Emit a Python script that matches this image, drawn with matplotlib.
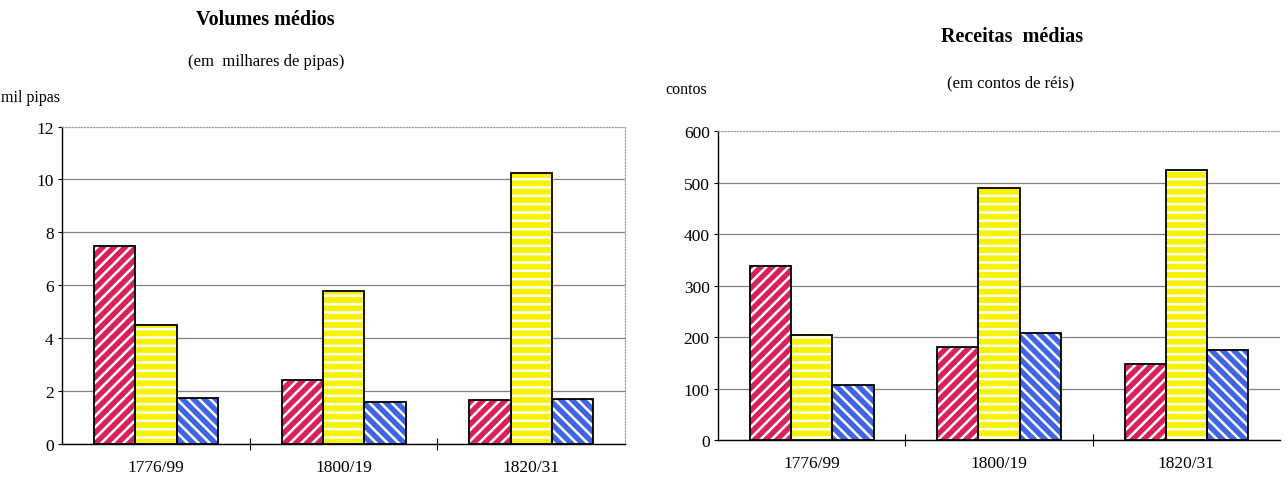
import matplotlib.pyplot as plt
import numpy as np

plt.rcParams['font.family'] = ['Liberation Serif', 'DejaVu Serif']
plt.rcParams['hatch.linewidth'] = 1.8

periodos = ["1776/99", "1800/19", "1820/31"]

# volumes medios (mil pipas)
vol_vermelho = [7.5, 2.4, 1.65]
vol_amarelo = [4.5, 5.8, 10.25]
vol_azul = [1.75, 1.6, 1.7]

# receitas medias (contos)
rec_vermelho = [338, 180, 148]
rec_amarelo = [204, 490, 525]
rec_azul = [107, 207, 175]

cores = ["#d8205a", "#f7f200", "#3f64e4"]
hatches = ["///", "--", "\\\\\\"]

fig = plt.figure(figsize=(12.87, 4.85), dpi=100)
ax1 = fig.add_axes([0.0482, 0.0825, 0.4375, 0.6546])
ax2 = fig.add_axes([0.5579, 0.0907, 0.4367, 0.6371])


def desenha(ax, series, ymax, step):
    x = np.arange(len(periodos))
    w = 0.22
    for i, vals in enumerate(series):
        pos = x + (i - 1) * w
        # colored fill with white hatch, then black outline on top
        ax.bar(pos, vals, w, color=cores[i], edgecolor="white", hatch=hatches[i],
               linewidth=0, zorder=3)
        ax.bar(pos, vals, w, fill=False, edgecolor="black", linewidth=1.3, zorder=4)
    ax.set_xlim(-0.5, 2.5)
    ax.set_ylim(0, ymax)
    ax.set_yticks(np.arange(0, ymax + 1, step))
    ax.set_xticks(x)
    ax.set_xticklabels(periodos, fontsize=12.5)
    ax.set_xticks([0.5, 1.5], minor=True)
    ax.tick_params(axis="x", which="major", length=0, pad=11)
    ax.tick_params(axis="x", which="minor", direction="inout", length=9, width=0.8)
    ax.tick_params(axis="y", direction="out", length=3, width=0.8, labelsize=12.5, pad=3)
    ax.yaxis.grid(True, color="#808080", linewidth=0.9, zorder=0)
    ax.get_ygridlines()[-1].set_visible(False)
    ax.set_axisbelow(True)
    for s in ["left", "bottom"]:
        ax.spines[s].set_color("black")
        ax.spines[s].set_linewidth(1.0)
    for s in ["top", "right"]:
        ax.spines[s].set_color("#a0a0a0")
        ax.spines[s].set_linestyle((0, (1, 1.5)))
        ax.spines[s].set_linewidth(0.9)


desenha(ax1, [vol_vermelho, vol_amarelo, vol_azul], 12, 2)
desenha(ax2, [rec_vermelho, rec_amarelo, rec_azul], 600, 100)
ax2.spines["right"].set_visible(False)

fig.text(0.206, 0.959, "Volumes médios", ha="center", va="center", fontsize=14.5, fontweight="bold")
fig.text(0.207, 0.872, "(em  milhares de pipas)", ha="center", va="center", fontsize=12)
fig.text(0.001, 0.798, "mil pipas", ha="left", va="center", fontsize=11.5)

fig.text(0.786, 0.924, "Receitas  médias", ha="center", va="center", fontsize=14.5, fontweight="bold")
fig.text(0.785, 0.829, "(em contos de réis)", ha="center", va="center", fontsize=12)
fig.text(0.517, 0.814, "contos", ha="left", va="center", fontsize=11.5)

fig.savefig("out.png", dpi=100)
